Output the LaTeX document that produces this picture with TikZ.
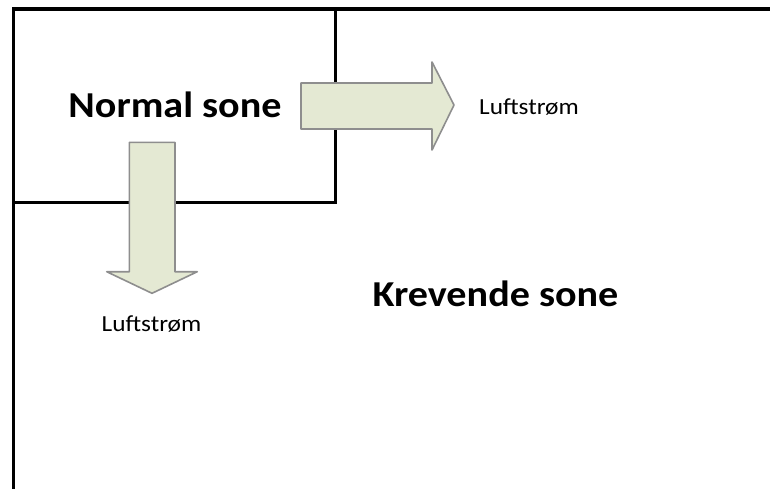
\documentclass[tikz,border=0pt]{standalone}
\usepackage{fontspec}
\setmainfont{Carlito}[FakeStretch=1.1]
\definecolor{arrowfill}{HTML}{E4E9D3}
\definecolor{arrowline}{HTML}{8E8E8E}
\tikzset{
  wall/.style={line width=3.4pt, line cap=rect},
  flow/.style={fill=arrowfill, draw=arrowline, line width=1.6pt, line join=round},
  zone/.style={font=\fontsize{36.5}{40}\selectfont\bfseries, inner sep=0pt, anchor=base},
  flowlabel/.style={font=\fontsize{23}{26}\selectfont, inner sep=0pt, anchor=base}
}
\begin{document}
\begin{tikzpicture}[x=1pt,y=-1pt]
\useasboundingbox (0,0) rectangle (770,488);
% outer frame (top and left)
\coordinate (tl) at (13.5,9);
\coordinate (tr) at (772,9);
\coordinate (bl) at (13.5,490);
\draw[wall] (tr) -- (tl) -- (bl);
% inner normal zone
\coordinate (it) at (335,9);
\coordinate (ic) at (335,202);
\coordinate (il) at (13.5,202);
\draw[wall, line width=3pt] (it) -- (ic) -- (il);
% right arrow
\draw[flow] (301,83) -- (432,83) -- (432,62) -- (454,105) -- (432,150) -- (432,129) -- (301,129) -- cycle;
% down arrow
\draw[flow] (129.3,142.3) -- (175,142.3) -- (175,271.7) -- (197.3,271.7) -- (152,293.3) -- (106.7,271.7) -- (129.3,271.7) -- cycle;
% labels
\node[zone] (normal) at (175,117) {Normal sone};
\node[zone] (krevende) at (495.5,306) {Krevende sone};
\node[flowlabel] (luft1) at (529,114) {Luftstrøm};
\node[flowlabel] (luft2) at (151.5,331) {Luftstrøm};
\end{tikzpicture}
\end{document}
